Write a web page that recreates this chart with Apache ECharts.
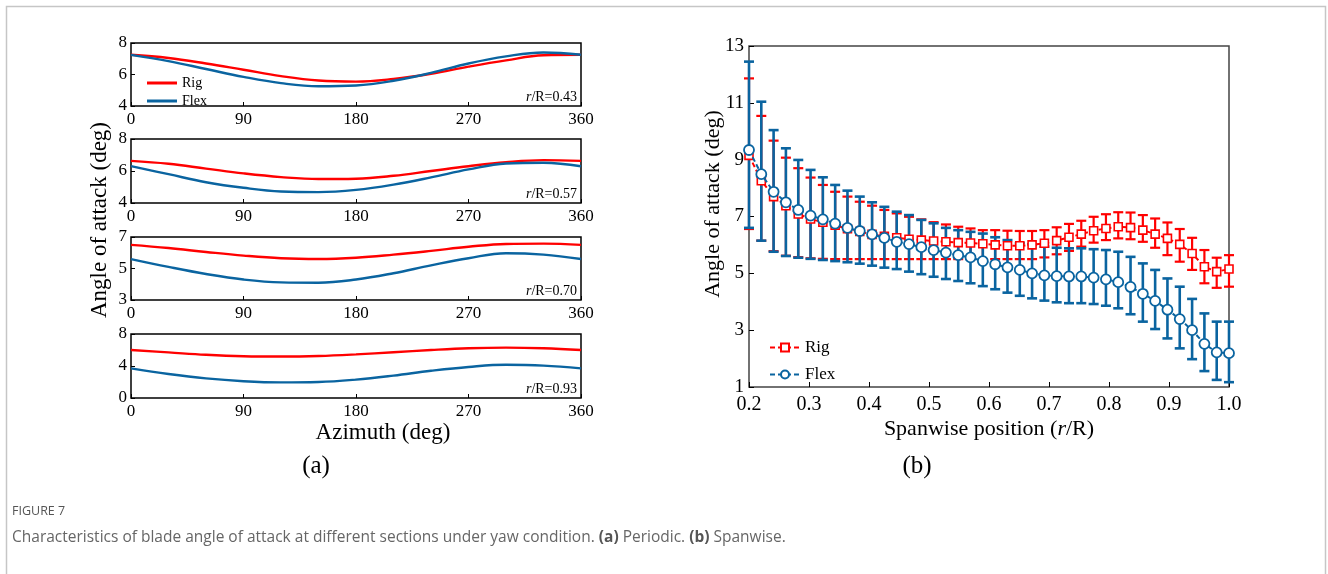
<!DOCTYPE html>
<html>
<head>
<meta charset="utf-8">
<title>Figure 7</title>
<script src="https://cdn.jsdelivr.net/npm/echarts@6/dist/echarts.min.js"></script>
<style>
  html, body { margin: 0; padding: 0; background: #fff; }
  #chart { width: 1328px; height: 574px; }
</style>
</head>
<body>
<div id="chart"></div>
<script>
// ---- (a) periodic: azimuth (deg) and angle of attack per section ----
var azimuth = [0, 30, 60, 90, 120, 150, 180, 210, 240, 270, 300, 330, 360];
var rig43  = [7.25, 7.05, 6.70, 6.30, 5.90, 5.62, 5.55, 5.72, 6.05, 6.50, 6.90, 7.22, 7.25];
var flex43 = [7.25, 6.85, 6.35, 5.85, 5.45, 5.25, 5.30, 5.60, 6.10, 6.70, 7.15, 7.40, 7.25];
var rig57  = [6.63, 6.45, 6.15, 5.85, 5.62, 5.50, 5.52, 5.70, 6.00, 6.30, 6.55, 6.68, 6.63];
var flex57 = [6.30, 5.80, 5.30, 4.95, 4.72, 4.68, 4.82, 5.15, 5.60, 6.10, 6.47, 6.52, 6.30];
var rig70  = [6.50, 6.30, 6.05, 5.82, 5.65, 5.60, 5.68, 5.88, 6.12, 6.38, 6.56, 6.58, 6.50];
var flex70 = [5.60, 5.10, 4.65, 4.30, 4.12, 4.10, 4.30, 4.70, 5.20, 5.65, 5.97, 5.88, 5.60];
var rig93  = [6.00, 5.70, 5.40, 5.22, 5.18, 5.25, 5.45, 5.72, 6.00, 6.22, 6.30, 6.22, 6.00];
var flex93 = [3.70, 3.00, 2.45, 2.10, 1.95, 2.00, 2.30, 2.80, 3.40, 3.88, 4.15, 4.05, 3.70];
var sections = ['0.43', '0.57', '0.70', '0.93'];

// ---- (b) spanwise: r/R stations, mean and min/max over one revolution ----
var span = [0.2, 0.2205, 0.2410, 0.2615, 0.2821, 0.3026, 0.3231, 0.3436, 0.3641, 0.3846,
            0.4051, 0.4256, 0.4462, 0.4667, 0.4872, 0.5077, 0.5282, 0.5487, 0.5692, 0.5897,
            0.6103, 0.6308, 0.6513, 0.6718, 0.6923, 0.7128, 0.7333, 0.7538, 0.7744, 0.7949,
            0.8154, 0.8359, 0.8564, 0.8769, 0.8974, 0.9179, 0.9385, 0.9590, 0.9795, 1.0];
var rigMean = [9.15, 8.26, 7.70, 7.38, 7.09, 6.91, 6.80, 6.69, 6.57, 6.47,
               6.37, 6.30, 6.25, 6.20, 6.17, 6.14, 6.11, 6.08, 6.07, 6.04,
               6.00, 5.97, 5.97, 6.00, 6.06, 6.15, 6.27, 6.38, 6.50, 6.58,
               6.64, 6.61, 6.52, 6.38, 6.23, 6.02, 5.70, 5.23, 5.06, 5.15];
var rigMax  = [11.86, 10.54, 9.67, 9.07, 8.70, 8.37, 8.11, 7.87, 7.70, 7.52,
               7.38, 7.23, 7.11, 6.99, 6.90, 6.80, 6.72, 6.64, 6.58, 6.52,
               6.52, 6.50, 6.49, 6.49, 6.52, 6.62, 6.74, 6.85, 6.99, 7.08,
               7.15, 7.14, 7.05, 6.93, 6.79, 6.56, 6.25, 5.82, 5.55, 5.64];
var rigMin  = [6.56, 6.15, 5.78, 5.62, 5.57, 5.53, 5.51, 5.50, 5.50, 5.50,
               5.50, 5.50, 5.50, 5.50, 5.50, 5.50, 5.50, 5.50, 5.50, 5.50,
               5.50, 5.50, 5.50, 5.50, 5.56, 5.67, 5.79, 5.94, 6.08, 6.17,
               6.23, 6.20, 6.11, 5.90, 5.64, 5.41, 5.12, 4.65, 4.49, 4.53];
var flexMean = [9.34, 8.49, 7.87, 7.50, 7.23, 7.03, 6.90, 6.75, 6.60, 6.49,
                6.37, 6.25, 6.11, 6.03, 5.92, 5.82, 5.73, 5.64, 5.56, 5.43,
                5.32, 5.21, 5.12, 5.00, 4.93, 4.90, 4.89, 4.89, 4.85, 4.79,
                4.69, 4.52, 4.28, 4.03, 3.72, 3.39, 3.00, 2.52, 2.22, 2.19];
var flexMax  = [12.45, 11.04, 10.04, 9.40, 8.99, 8.64, 8.38, 8.11, 7.91, 7.70,
                7.50, 7.34, 7.17, 7.05, 6.88, 6.76, 6.60, 6.52, 6.46, 6.40,
                6.27, 6.17, 6.06, 6.02, 5.94, 5.90, 5.88, 5.88, 5.85, 5.82,
                5.76, 5.58, 5.35, 5.12, 4.82, 4.53, 4.10, 3.59, 3.30, 3.30];
var flexMin  = [6.60, 6.15, 5.76, 5.61, 5.55, 5.51, 5.47, 5.43, 5.39, 5.34,
                5.27, 5.20, 5.15, 5.06, 4.97, 4.88, 4.80, 4.73, 4.65, 4.55,
                4.44, 4.32, 4.21, 4.12, 4.04, 3.98, 3.95, 3.95, 3.92, 3.86,
                3.77, 3.56, 3.30, 3.04, 2.71, 2.36, 1.98, 1.56, 1.25, 1.17];

var RED = '#ff0000';
var BLUE = '#0a64a0';
var SERIF = 'Liberation Serif';

var chart = echarts.init(document.getElementById('chart'));

function pairs(xs, ys) {
    return xs.map(function (x, i) { return [x, ys[i]]; });
}
function bars(xs, lo, hi) {
    return xs.map(function (x, i) { return [x, lo[i], hi[i]]; });
}

// left panels layout
var panelTop = [43, 139, 237, 334];
var panelH = [63, 64, 63, 64];
var panelY = [[4, 8, 2], [4, 8, 2], [3, 7, 2], [0, 8, 4]];
var rigSets = [rig43, rig57, rig70, rig93];
var flexSets = [flex43, flex57, flex70, flex93];

var grids = [], xAxes = [], yAxes = [], series = [];
for (var k = 0; k < 4; k++) {
    grids.push({ left: 131, width: 450, top: panelTop[k], height: panelH[k],
        show: true, borderColor: '#000', borderWidth: 1.5 });
    xAxes.push({ gridIndex: k, type: 'value', min: 0, max: 360, interval: 90,
        axisLine: { show: false },
        axisTick: { inside: true, length: 4, lineStyle: { color: '#000' } },
        axisLabel: { color: '#000', fontFamily: SERIF, fontSize: 17, margin: 5 },
        splitLine: { show: false } });
    yAxes.push({ gridIndex: k, type: 'value', min: panelY[k][0], max: panelY[k][1], interval: panelY[k][2],
        axisLine: { show: false },
        axisTick: { inside: true, length: 4, lineStyle: { color: '#000' } },
        axisLabel: { color: '#000', fontFamily: SERIF, fontSize: 17, margin: 4 },
        splitLine: { show: false } });
    series.push({ name: k === 0 ? 'Rig ' : 'rig' + k, type: 'line', xAxisIndex: k, yAxisIndex: k,
        data: pairs(azimuth, rigSets[k]), smooth: 0.4, showSymbol: false, symbol: 'none',
        lineStyle: { color: RED, width: 2.4 }, itemStyle: { color: RED } });
    series.push({ name: k === 0 ? 'Flex ' : 'flex' + k, type: 'line', xAxisIndex: k, yAxisIndex: k,
        data: pairs(azimuth, flexSets[k]), smooth: 0.4, showSymbol: false, symbol: 'none',
        lineStyle: { color: BLUE, width: 2.4 }, itemStyle: { color: BLUE } });
}

// right panel (index 4)
grids.push({ left: 749, width: 480, top: 46, height: 341,
    show: true, borderColor: '#444', borderWidth: 1.5 });
xAxes.push({ gridIndex: 4, type: 'value', min: 0.2, max: 1.0, interval: 0.1,
    axisLine: { show: false },
    axisTick: { inside: true, length: 5, lineStyle: { color: '#000' } },
    axisLabel: { color: '#000', fontFamily: SERIF, fontSize: 20, margin: 8,
        formatter: function (v) { return v.toFixed(1); } },
    splitLine: { show: false } });
yAxes.push({ gridIndex: 4, type: 'value', min: 1, max: 13, interval: 2,
    axisLine: { show: false },
    axisTick: { inside: true, length: 5, lineStyle: { color: '#000' } },
    axisLabel: { color: '#000', fontFamily: SERIF, fontSize: 19, margin: 5 },
    splitLine: { show: false } });

function errRender(color, width) {
    return function (params, api) {
        var x = api.value(0);
        var lo = api.coord([x, api.value(1)]);
        var hi = api.coord([x, api.value(2)]);
        var c = 5;
        var st = { stroke: color, lineWidth: width };
        return { type: 'group', children: [
            { type: 'line', shape: { x1: lo[0], y1: lo[1], x2: hi[0], y2: hi[1] }, style: st },
            { type: 'line', shape: { x1: lo[0] - c, y1: lo[1], x2: lo[0] + c, y2: lo[1] }, style: st },
            { type: 'line', shape: { x1: hi[0] - c, y1: hi[1], x2: hi[0] + c, y2: hi[1] }, style: st }
        ] };
    };
}

series.push({ name: 'rigErr', type: 'custom', xAxisIndex: 4, yAxisIndex: 4, z: 2,
    renderItem: errRender(RED, 2.2), data: bars(span, rigMin, rigMax) });
series.push({ name: 'flexErr', type: 'custom', xAxisIndex: 4, yAxisIndex: 4, z: 3,
    renderItem: errRender(BLUE, 2.6), data: bars(span, flexMin, flexMax) });
series.push({ name: 'Rig', type: 'line', xAxisIndex: 4, yAxisIndex: 4, z: 4,
    data: pairs(span, rigMean), symbol: 'rect', symbolSize: 8,
    lineStyle: { color: RED, width: 2, type: [5, 3] },
    itemStyle: { color: '#fff', borderColor: RED, borderWidth: 1.6 } });
series.push({ name: 'Flex', type: 'line', xAxisIndex: 4, yAxisIndex: 4, z: 5,
    data: pairs(span, flexMean), symbol: 'circle', symbolSize: 10,
    lineStyle: { color: BLUE, width: 2, type: [5, 3] },
    itemStyle: { color: '#fff', borderColor: BLUE, borderWidth: 1.8 } });

var graphics = [
    { type: 'rect', left: 4, top: 4, shape: { width: 1319, height: 600 },
      style: { fill: 'none', stroke: '#c6c6c6', lineWidth: 1.5 }, silent: true },
    { type: 'text', x: 100, y: 220, rotation: Math.PI / 2,
      style: { text: 'Angle of attack (deg)', font: '23px "Liberation Serif"', fill: '#000',
               align: 'center', verticalAlign: 'middle' } },
    { type: 'text', x: 383, y: 433,
      style: { text: 'Azimuth (deg)', font: '23px "Liberation Serif"', fill: '#000',
               align: 'center', verticalAlign: 'middle' } },
    { type: 'text', x: 316, y: 466,
      style: { text: '(a)', font: '25px "Liberation Serif"', fill: '#000',
               align: 'center', verticalAlign: 'middle' } },
    { type: 'text', x: 713, y: 204, rotation: Math.PI / 2,
      style: { text: 'Angle of attack (deg)', font: '22px "Liberation Serif"', fill: '#000',
               align: 'center', verticalAlign: 'middle' } },
    { type: 'text', x: 989, y: 429,
      style: { rich: { n: { font: '22px "Liberation Serif"', fill: '#000' },
                       i: { font: 'italic 22px "Liberation Serif"', fill: '#000' } },
               text: '{n|Spanwise position (}{i|r}{n|/R)}', align: 'center', verticalAlign: 'middle' } },
    { type: 'text', x: 917, y: 466,
      style: { text: '(b)', font: '25px "Liberation Serif"', fill: '#000',
               align: 'center', verticalAlign: 'middle' } },
    { type: 'text', x: 12, y: 511,
      style: { text: 'FIGURE 7', font: '12.5px "Open Sans"', fill: '#555',
               align: 'left', verticalAlign: 'middle' } },
    { type: 'text', x: 12, y: 538,
      style: { rich: { n: { font: '15.5px "Open Sans"', fill: '#666' },
                       b: { font: 'bold 15.5px "Open Sans"', fill: '#555' } },
               text: '{n|Characteristics of blade angle of attack at different sections under yaw condition. }{b|(a)}{n| Periodic. }{b|(b)}{n| Spanwise.}',
               align: 'left', verticalAlign: 'middle' } }
];
for (var s = 0; s < 4; s++) {
    graphics.push({ type: 'text', x: 577, y: panelTop[s] + panelH[s] - 9,
        style: { rich: { n: { font: '14px "Liberation Serif"', fill: '#000' },
                         i: { font: 'italic 14px "Liberation Serif"', fill: '#000' } },
                 text: '{i|r}{n|/R=' + sections[s] + '}', align: 'right', verticalAlign: 'middle' } });
}

chart.setOption({
    animation: false,
    grid: grids,
    xAxis: xAxes,
    yAxis: yAxes,
    legend: [
        { data: ['Rig ', 'Flex '], left: 142, top: 71, orient: 'vertical', itemGap: 4,
          itemWidth: 30, itemHeight: 10, icon: 'path://M0,3.5 L30,3.5 L30,6.5 L0,6.5 Z',
          textStyle: { fontFamily: SERIF, fontSize: 14, color: '#000' } },
        { data: ['Rig', 'Flex'], left: 764, top: 334, orient: 'vertical', itemGap: 10,
          itemWidth: 30, itemHeight: 10,
          textStyle: { fontFamily: SERIF, fontSize: 17, color: '#000' } }
    ],
    graphic: graphics,
    series: series
});
</script>
</body>
</html>
